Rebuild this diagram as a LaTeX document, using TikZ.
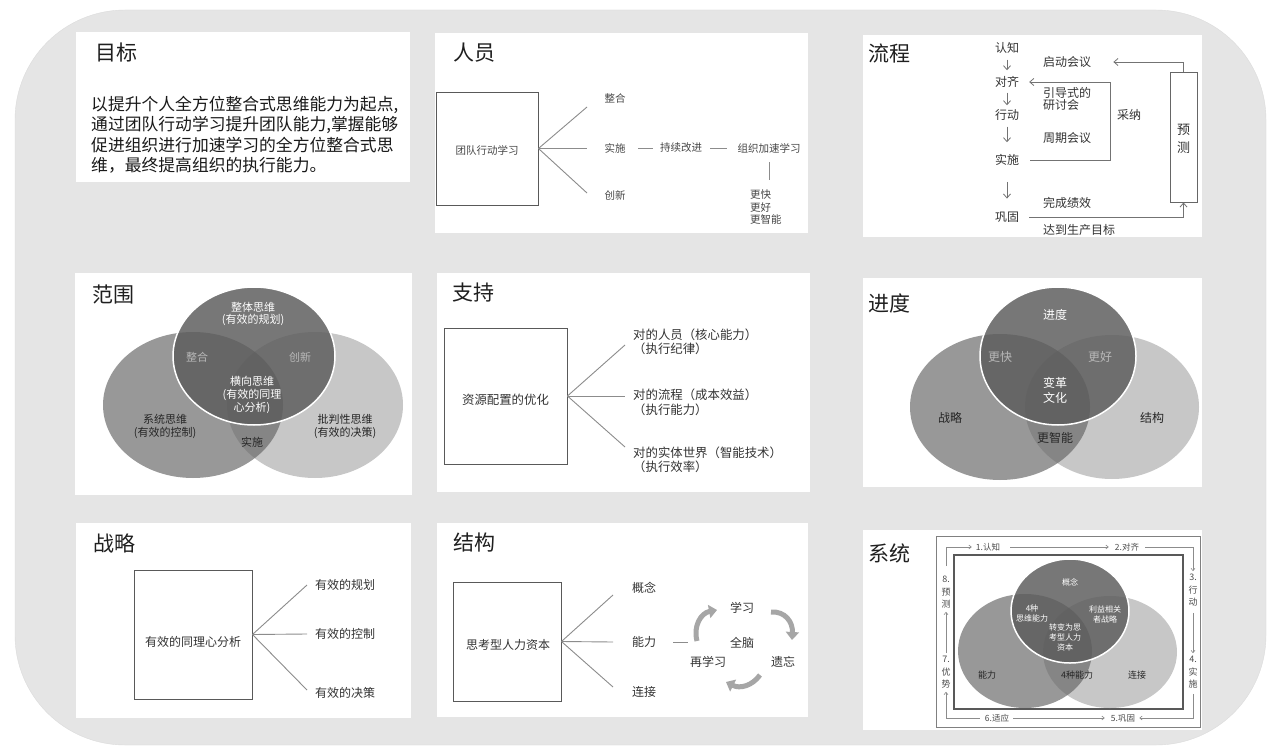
\documentclass[tikz,border=0pt]{standalone}
\usepackage{fontspec}
\setmainfont{Noto Sans CJK SC}
\usetikzlibrary{arrows.meta}
\begin{document}
\begin{tikzpicture}[x=1pt,y=-1pt,
 ttl/.style={anchor=west,inner sep=0,text=black!88,font=\fontsize{21}{24}\selectfont},
 body/.style={anchor=west,inner sep=0,text=black!90,font=\fontsize{16.8}{20}\selectfont},
 ta/.style={inner sep=0,text=black!72,font=\fontsize{10.5}{12.5}\selectfont},
 tb/.style={inner sep=0,text=black!80,font=\fontsize{12}{14.5}\selectfont},
 tc/.style={inner sep=0,align=center,font=\fontsize{11}{13}\selectfont},
 tg/.style={inner sep=0,align=center,font=\fontsize{12}{15}\selectfont},
 td/.style={inner sep=0,align=center,font=\fontsize{8}{10}\selectfont},
 te/.style={inner sep=0,text=black!70,align=center,font=\fontsize{9}{12.5}\selectfont},
 panel/.style={fill=white},
 tbox/.style={draw=black!65,line width=0.9pt,fill=white,inner sep=0},
 twig/.style={draw=black!45,line width=0.9pt},
 garr/.style={draw=black!55,line width=0.8pt,-{Straight Barb[length=4pt,width=7pt]}},
 barr/.style={draw=black!45,line width=0.6pt,-{Straight Barb[length=2.5pt,width=4pt]}},
 curv/.style={draw=black!35,line width=5pt,-{Triangle[length=8pt,width=13pt]}},
 vR/.style={fill=black!22},
 vL/.style={fill=black!60,fill opacity=0.67},
 vT/.style={fill=black!64,fill opacity=0.83,draw=white,draw opacity=1,line width=1.5pt},
 onT/.style={text=white},
 onTs/.style={text=black!28},
 onD/.style={text=black!85},
]
\useasboundingbox (0,0) rectangle (1280,752);
\fill[white] (0,0) rectangle (1280,752);
\path[fill=black!10,draw=black!14,rounded corners=110pt] (15,10) rectangle (1266,745);

% panels
\fill[panel] (76,32) rectangle (410,182);
\fill[panel] (435,33) rectangle (808,233);
\fill[panel] (863,35) rectangle (1202,237);
\fill[panel] (75,273) rectangle (412,495);
\fill[panel] (437,273) rectangle (810,492);
\fill[panel] (863,278) rectangle (1202,487);
\fill[panel] (76,523) rectangle (411,718);
\fill[panel] (437,523) rectangle (808,717);
\fill[panel] (863,530) rectangle (1202,730);

% ---------- 目标
\node[ttl] (t1) at (95,53) {目标};
\node[body] (g1) at (91,105) {以提升个人全方位整合式思维能力为起点,};
\node[body] (g2) at (91,125) {通过团队行动学习提升团队能力,掌握能够};
\node[body] (g3) at (91,145) {促进组织进行加速学习的全方位整合式思};
\node[body] (g4) at (91,165) {维，最终提高组织的执行能力。};

% ---------- 人员
\node[ttl] (t2) at (453,53) {人员};
\node[tbox,minimum width=102pt,minimum height=113pt] (rbox) at (487,148.5) {};
\node[ta] (rboxt) at (487,150) {团队行动学习};
\coordinate (r1) at (587,107);
\coordinate (r2) at (587,148.5);
\coordinate (r3) at (587,193);
\draw[twig] (rbox.east) -- (r1);
\draw[twig] (rbox.east) -- (r2);
\draw[twig] (rbox.east) -- (r3);
\node[ta] (rzh) at (615,98) {整合};
\node[ta] (rss) at (615,148) {实施};
\node[ta] (rcx) at (615,195) {创新};
\node[ta] (rcj) at (681,148) {持续改进};
\node[ta] (rzz) at (769,148) {组织加速学习};
\node[ta,anchor=west,align=left] (rgk) at (750,207.5) {更快\\更好\\更智能};
\draw[twig,shorten <=12.5pt,shorten >=7pt] (rss.east) -- (rcj.west);
\draw[twig,shorten <=8pt,shorten >=10.5pt] (rcj.east) -- (rzz.west);
\draw[twig,shorten <=9pt,shorten >=10pt] (rzz.south) -- (rzz.south |- rgk.north);

% ---------- 流程
\node[ttl] (t3) at (868,53) {流程};
\node[tb] (lrz) at (1007,48) {认知};
\node[tb] (ldq) at (1007,82) {对齐};
\node[tb] (lxd) at (1007,115) {行动};
\node[tb] (lss) at (1007,160) {实施};
\node[tb] (lgg) at (1007,217) {巩固};
\draw[garr,shorten <=6pt,shorten >=6pt] (lrz) -- (ldq);
\draw[garr,shorten <=5pt,shorten >=4pt] (ldq) -- (lxd);
\draw[garr,shorten <=6pt,shorten >=12pt] (lxd) -- (lss);
\draw[garr,shorten <=16pt,shorten >=13pt] (lss) -- (lgg);
\node[tb,anchor=west] (lqd) at (1043,62) {启动会议};
\node[tb,anchor=west,align=left,font=\fontsize{12}{12}\selectfont] (lyd) at (1043,99) {引导式的\\研讨会};
\node[tb,anchor=west] (lzq) at (1043,138) {周期会议};
\node[tb,anchor=west] (lcn) at (1117,115) {采纳};
\node[tb,anchor=west] (lwc) at (1043,203) {完成绩效};
\node[tb,anchor=west] (ldd) at (1043,230) {达到生产目标};
\node[draw=black!60,line width=0.9pt,minimum width=27pt,minimum height=130pt,inner sep=0] (lyc) at (1183.5,137) {};
\node[tb,align=center,font=\fontsize{13}{18}\selectfont] (lyct) at (1183.5,139) {预\\测};
\coordinate (lloop) at (1110,82);
\draw[garr] ([xshift=11pt]lss.east) -| (lloop) -- ([xshift=10pt]ldq.east);
\draw[garr] (lyc.north) |- ([xshift=22pt]lqd.east);
\draw[garr] ([xshift=10pt]lgg.east) -| (lyc.south);

% ---------- 范围
\node[ttl] (t4) at (92,295) {范围};
\path[vR] (315,405) ellipse [x radius=88pt,y radius=73pt];
\path[vL] (193,405) ellipse [x radius=90pt,y radius=73pt];
\path[vT] (254,356) ellipse [x radius=81pt,y radius=69pt];
\node[tc,onT,font=\fontsize{11}{12.5}\selectfont] (fzt) at (253,314) {整体思维\\(有效的规划)};
\node[tc,onTs] (fzh) at (197,357) {整合};
\node[tc,onTs] (fcx) at (300,357) {创新};
\node[tc,onT] (fhx) at (252,395) {横向思维\\(有效的同理\\心分析)};
\node[tc,onD] (fxt) at (165,426.5) {系统思维\\(有效的控制)};
\node[tc,onD] (fpp) at (345,426.5) {批判性思维\\(有效的决策)};
\node[tc,onD] (fss) at (252,442) {实施};

% ---------- 支持
\node[ttl] (t5) at (452,293) {支持};
\node[tbox,minimum width=123pt,minimum height=136pt] (zbox) at (505.5,396) {};
\node[tb,font=\fontsize{12.4}{14.5}\selectfont] (zboxt) at (505.5,400) {资源配置的优化};
\coordinate (z1) at (625,345);
\coordinate (z2) at (625,396);
\coordinate (z3) at (625,447);
\draw[twig] (zbox.east) -- (z1);
\draw[twig] (zbox.east) -- (z2);
\draw[twig] (zbox.east) -- (z3);
\node[tb,anchor=west,align=left,font=\fontsize{12.4}{14}\selectfont] (zr) at (633,341.5) {对的人员（核心能力）\\（执行纪律）};
\node[tb,anchor=west,align=left,font=\fontsize{12.4}{15}\selectfont] (zl) at (633,402.5) {对的流程（成本效益）\\（执行能力）};
\node[tb,anchor=west,align=left,font=\fontsize{12.4}{14}\selectfont] (zs) at (633,460) {对的实体世界（智能技术）\\（执行效率）};

% ---------- 进度
\node[ttl] (t6) at (868,303) {进度};
\path[vR] (1112,407) ellipse [x radius=87pt,y radius=72pt];
\path[vL] (1000,407) ellipse [x radius=90pt,y radius=73pt];
\path[vT] (1058,356) ellipse [x radius=78pt,y radius=69pt];
\node[tg,onT] (jjd) at (1055,315) {进度};
\node[tg,onTs] (jgk) at (1000,357) {更快};
\node[tg,onTs] (jgh) at (1100,357) {更好};
\node[tg,onT] (jbg) at (1055,390.5) {变革\\文化};
\node[tg,onD] (jzl) at (950,418) {战略};
\node[tg,onD] (jjg) at (1152,418) {结构};
\node[tg,onD] (jgz) at (1055,438) {更智能};

% ---------- 战略
\node[ttl] (t7) at (93,543) {战略};
\node[tbox,minimum width=118pt,minimum height=129pt] (sbox) at (193,634.5) {};
\node[tb] (sboxt) at (193,642) {有效的同理心分析};
\coordinate (s1) at (307,585);
\coordinate (s2) at (307,634);
\coordinate (s3) at (307,690);
\draw[twig] (sbox.east) -- (s1);
\draw[twig] (sbox.east) -- (s2);
\draw[twig] (sbox.east) -- (s3);
\node[tb,anchor=west] (sgh) at (315,585) {有效的规划};
\node[tb,anchor=west] (skz) at (315,634) {有效的控制};
\node[tb,anchor=west] (sjc) at (315,693) {有效的决策};

% ---------- 结构
\node[ttl] (t8) at (453,543) {结构};
\node[tbox,minimum width=108pt,minimum height=119pt] (jbox) at (507,641.5) {};
\node[tb] (jboxt) at (508,645) {思考型人力资本};
\coordinate (k1) at (613,595);
\coordinate (k2) at (613,642);
\coordinate (k3) at (613,687);
\draw[twig] (jbox.east) -- (k1);
\draw[twig] (jbox.east) -- (k2);
\draw[twig] (jbox.east) -- (k3);
\node[tb,anchor=west] (kgn) at (632,588) {概念};
\node[tb,anchor=west] (knl) at (632,642) {能力};
\node[tb,anchor=west] (klj) at (632,692) {连接};
\coordinate (kdash) at (688,642);
\draw[twig] ([xshift=17pt]knl.east) -- (kdash);
\node[tb] (kxx) at (742,608) {学习};
\node[tb] (kqn) at (742,643) {全脑};
\node[tb] (kyw) at (783,662) {遗忘};
\node[tb] (kzx) at (708,662) {再学习};
\coordinate (ka1) at (697,641);
\coordinate (kb1) at (717,610);
\coordinate (ka2) at (771,612);
\coordinate (kb2) at (792,640);
\coordinate (ka3) at (760,675);
\coordinate (kb3) at (726,682);
\draw[curv] (ka1) .. controls (693,626) and (701,613) .. (kb1);
\draw[curv] (ka2) .. controls (785,611) and (793,622) .. (kb2);
\draw[curv] (ka3) .. controls (752,686) and (740,689) .. (kb3);

% ---------- 系统
\node[ttl] (t9) at (868,553) {系统};
\node[draw=black!50,line width=0.8pt,minimum width=264pt,minimum height=191pt,inner sep=0] (xo) at (1068,631.5) {};
\node[draw=black!65,line width=1.3pt,minimum width=229pt,minimum height=154pt,inner sep=0] (xi) at (1068.5,632) {};
\path[vR] (1110,652) ellipse [x radius=67pt,y radius=56pt];
\path[vL] (1025,651) ellipse [x radius=67pt,y radius=57pt];
\path[vT] (1070,611) ellipse [x radius=59pt,y radius=52pt];
\node[td,onT] (xgn) at (1070,582) {概念};
\node[td,onT] (xsw) at (1032,613) {4种\\思维能力};
\node[td,onT] (xly) at (1105,614) {利益相关\\者战略};
\node[td,onT] (xzb) at (1065,637) {转变为思\\考型人力\\资本};
\node[td,onD,font=\fontsize{9}{10}\selectfont] (xnl) at (987,675) {能力};
\node[td,onD,font=\fontsize{9}{10}\selectfont] (x4n) at (1077,675) {4种能力};
\node[td,onD,font=\fontsize{9}{10}\selectfont] (xlj) at (1137,675) {连接};
\node[te,font=\fontsize{8.5}{10}\selectfont] (xl1) at (988,547) {1.认知};
\node[te,font=\fontsize{8.5}{10}\selectfont] (xl2) at (1127,547) {2.对齐};
\node[te] (xl3) at (1193,590.5) {3.\\行\\动};
\node[te] (xl4) at (1193,672.5) {4.\\实\\施};
\node[te,font=\fontsize{8.5}{10}\selectfont] (xl5) at (1123,718) {5.巩固};
\node[te,font=\fontsize{8.5}{10}\selectfont] (xl6) at (997,718) {6.适应};
\node[te] (xl7) at (946,672.5) {7.\\优\\势};
\node[te] (xl8) at (946,592.5) {8.\\预\\测};
\draw[barr,shorten <=10pt,shorten >=4pt] (xl8.north) |- (xl1.west);
\draw[barr,shorten <=10pt,shorten >=6pt] (xl1.east) -- (xl2.west);
\draw[barr,shorten <=6pt,shorten >=3pt] (xl2.east) -| (xl3.north);
\draw[barr,shorten <=6pt,shorten >=3pt] (xl3.south) -- (xl4.north);
\draw[barr,shorten <=5pt,shorten >=4pt] (xl4.south) |- (xl5.east);
\draw[barr,shorten <=4pt,shorten >=6pt] (xl6.east) -- (xl5.west);
\draw[barr,shorten <=5pt,shorten >=3pt] (xl6.west) -| (xl7.south);
\draw[barr,shorten <=3pt,shorten >=3pt] (xl7.north) -- (xl8.south);
\end{tikzpicture}
\end{document}
